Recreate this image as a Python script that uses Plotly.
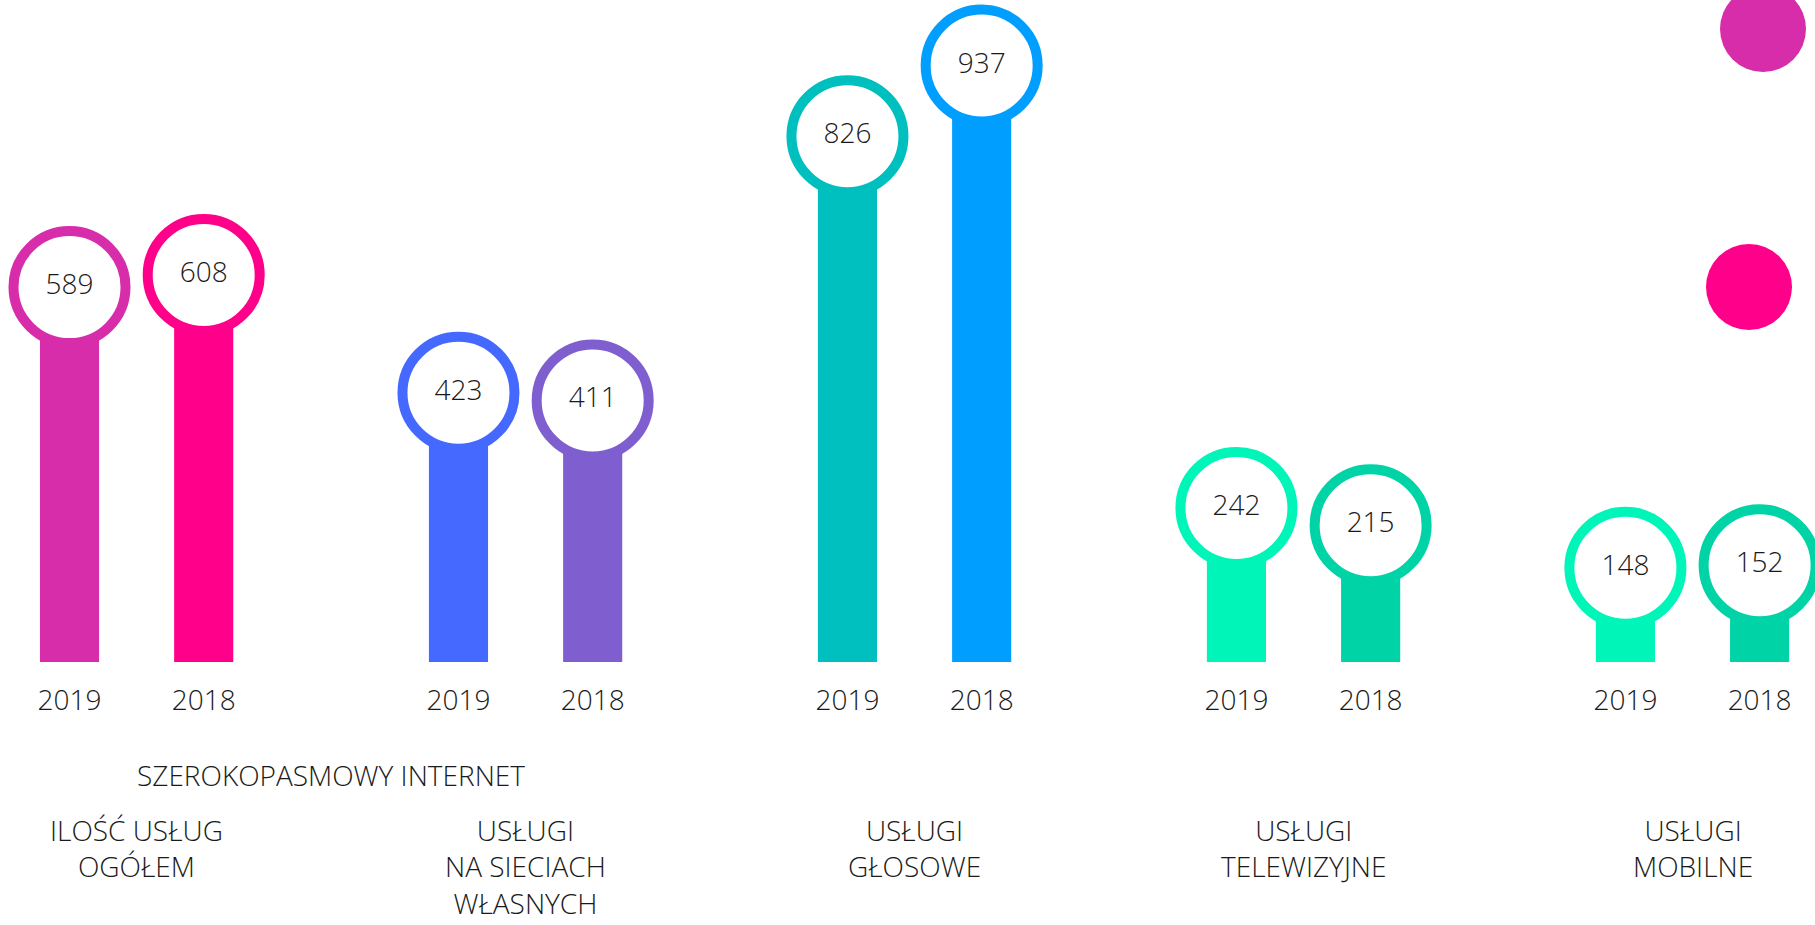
import plotly.graph_objects as go

categories = ["ILOŚĆ USŁUG<br>OGÓŁEM", "USŁUGI<br>NA SIECIACH<br>WŁASNYCH", "USŁUGI<br>GŁOSOWE",
              "USŁUGI<br>TELEWIZYJNE", "USŁUGI<br>MOBILNE"]
supergroup_label = "SZEROKOPASMOWY INTERNET"
years = ["2019", "2018"]
values_2019 = [589, 423, 826, 242, 148]
values_2018 = [608, 411, 937, 215, 152]
colors_2019 = ["#D72DAB", "#4569FF", "#00BFBF", "#00F5B8", "#00F5B8"]
colors_2018 = ["#FF008A", "#7F5FCF", "#009EFF", "#00D4A6", "#00D4A6"]

FONT = "Open Sans"
FW = 300
FS = 28
TXT = "#1a1a1a"
OFF = 0.1725
BW = 0.152

W, H = 1815, 925
PH = 662  # plot-area height in px (baseline position)

groups = list(range(len(categories)))
x19 = [g - OFF for g in groups]
x18 = [g + OFF for g in groups]

fnt = dict(family=FONT, size=FS, color=TXT, weight=FW)

fig = go.Figure()
for xs, vals, cols, yr in [(x19, values_2019, colors_2019, years[0]), (x18, values_2018, colors_2018, years[1])]:
    fig.add_trace(go.Bar(x=xs, y=vals, width=BW, marker=dict(color=cols, line=dict(width=0)),
                         name=yr, showlegend=False, hoverinfo="skip"))
for xs, vals, cols in [(x19, values_2019, colors_2019), (x18, values_2018, colors_2018)]:
    fig.add_trace(go.Scatter(x=xs, y=vals, mode="markers+text", text=[str(v) for v in vals],
                             textposition="middle center", textfont=fnt,
                             marker=dict(size=112, color="white", line=dict(color=cols, width=10)),
                             cliponaxis=False, showlegend=False, hoverinfo="skip"))

tickvals = []
ticktext = []
for g in groups:
    tickvals += [x19[g], x18[g]]
    ticktext += years

annotations = []
for g, c in zip(groups, categories):
    annotations.append(dict(x=g, y=-(810 - PH) / PH, xref="x", yref="paper", text=c,
                            showarrow=False, yanchor="top", xanchor="center", align="center",
                            borderpad=0, font=fnt))
annotations.append(dict(x=0.5, y=-(775 - PH) / PH, xref="x", yref="paper", text=supergroup_label,
                        showarrow=False, yanchor="middle", xanchor="center", borderpad=0, font=fnt))

shapes = []
for cx, cy, col in [(1763, 29, colors_2019[0]), (1749, 287, colors_2018[0])]:
    r = 43
    shapes.append(dict(type="circle", xref="paper", yref="paper",
                       x0=(cx - r) / W, x1=(cx + r) / W,
                       y0=(PH - cy - r) / PH, y1=(PH - cy + r) / PH,
                       fillcolor=col, line=dict(width=0)))

fig.update_layout(
    width=W, height=H,
    margin=dict(l=0, r=0, t=0, b=H - PH),
    paper_bgcolor="white", plot_bgcolor="white",
    barmode="overlay",
    xaxis=dict(range=[-0.3512, 4.3149], tickvals=tickvals, ticktext=ticktext,
               showgrid=False, zeroline=False, showline=False, ticks="",
               tickfont=fnt, ticklabelstandoff=19),
    yaxis=dict(range=[0, 1040], visible=False, showgrid=False, zeroline=False),
    annotations=annotations,
    shapes=shapes,
)

fig.write_html("out.html", config={"displayModeBar": False},
               post_script="document.body.style.margin='0';")
